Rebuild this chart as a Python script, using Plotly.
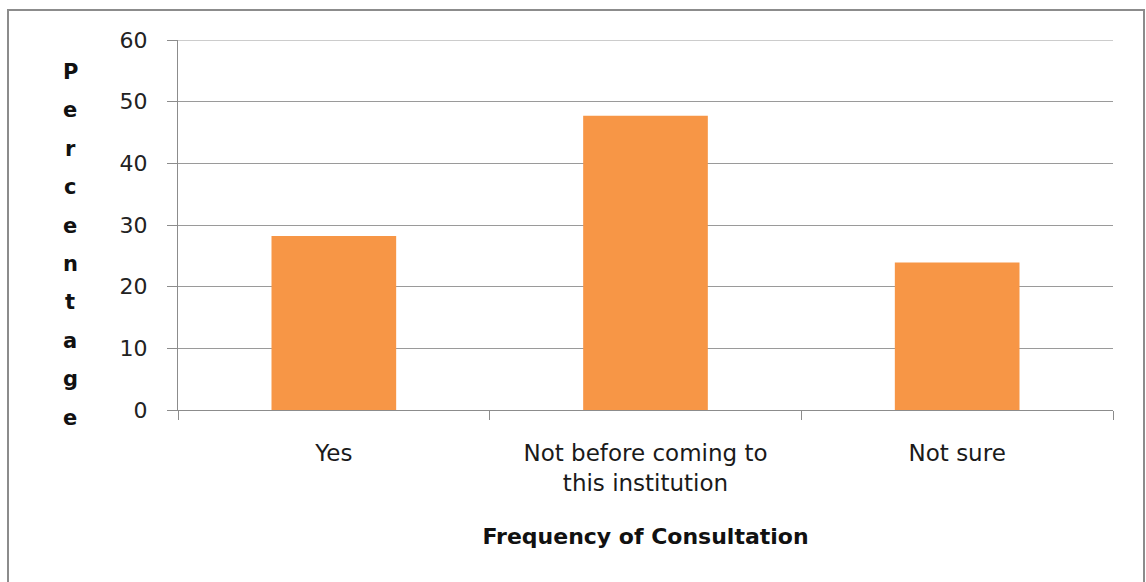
import plotly.graph_objects as go

categories = ["Yes", "Not before coming to<br>this institution", "Not sure"]
percentages = [28.2, 47.7, 23.9]
y_ticks = [0, 10, 20, 30, 40, 50, 60]
y_title_letters = list("Percentage")
x_title = "Frequency of Consultation"

W, H = 1146, 582
L, R, T, B = 178, 33, 40, 172

fig = go.Figure()
fig.add_trace(go.Bar(
    x=categories, y=percentages,
    marker=dict(color="#F79646", line=dict(width=0)),
    width=0.4,
))

fig.update_layout(
    width=W, height=H,
    margin=dict(l=L, r=R, t=T, b=B, pad=0),
    paper_bgcolor="white", plot_bgcolor="white",
    showlegend=False,
)
fig.update_xaxes(
    type="category",
    tickson="boundaries",
    ticks="outside", ticklen=9, tickcolor="#8c8c8c", tickwidth=1,
    showline=True, linecolor="#8c8c8c", linewidth=1,
    showgrid=False,
    tickfont=dict(family="DejaVu Sans", size=23, color="#1a1a1a"),
    ticklabelstandoff=22,
    title=dict(text="<b>" + x_title + "</b>", font=dict(family="DejaVu Sans", size=22, color="#111"), standoff=34),
)
fig.update_yaxes(
    range=[0, 60],
    tickvals=y_ticks,
    ticks="outside", ticklen=10, tickcolor="#8c8c8c", tickwidth=1,
    showline=True, linecolor="#8c8c8c", linewidth=1,
    showgrid=True, gridcolor="#9a9a9a", gridwidth=1,
    zeroline=False,
    tickfont=dict(family="DejaVu Sans", size=22, color="#222"),
    ticklabelstandoff=15,
)

# top gridline at the maximum tick (plotly omits gridlines on the plot edge)
fig.add_shape(
    type="line", xref="paper", yref="y",
    x0=0, x1=1, y0=max(y_ticks), y1=max(y_ticks),
    line=dict(color="#9a9a9a", width=1), layer="below",
)

# Vertical stacked letters for y-axis title
plot_h = H - T - B
y_start, step = 72, 38.4
for i, ch in enumerate(y_title_letters):
    ypix = y_start + i * step
    fig.add_annotation(
        text="<b>" + ch + "</b>",
        xref="paper", yref="paper",
        x=(70 - L) / (W - L - R), y=1 - (ypix - T) / plot_h,
        showarrow=False, xanchor="center", yanchor="middle",
        font=dict(family="DejaVu Sans", size=21, color="#111"),
    )

# outer frame
fig.add_shape(
    type="rect", xref="paper", yref="paper",
    x0=(8 - L) / (W - L - R), x1=(1144 - L) / (W - L - R),
    y0=1 - (600 - T) / plot_h, y1=1 - (10 - T) / plot_h,
    line=dict(color="#8c8c8c", width=2), layer="below",
)

fig.write_html("out.html")
